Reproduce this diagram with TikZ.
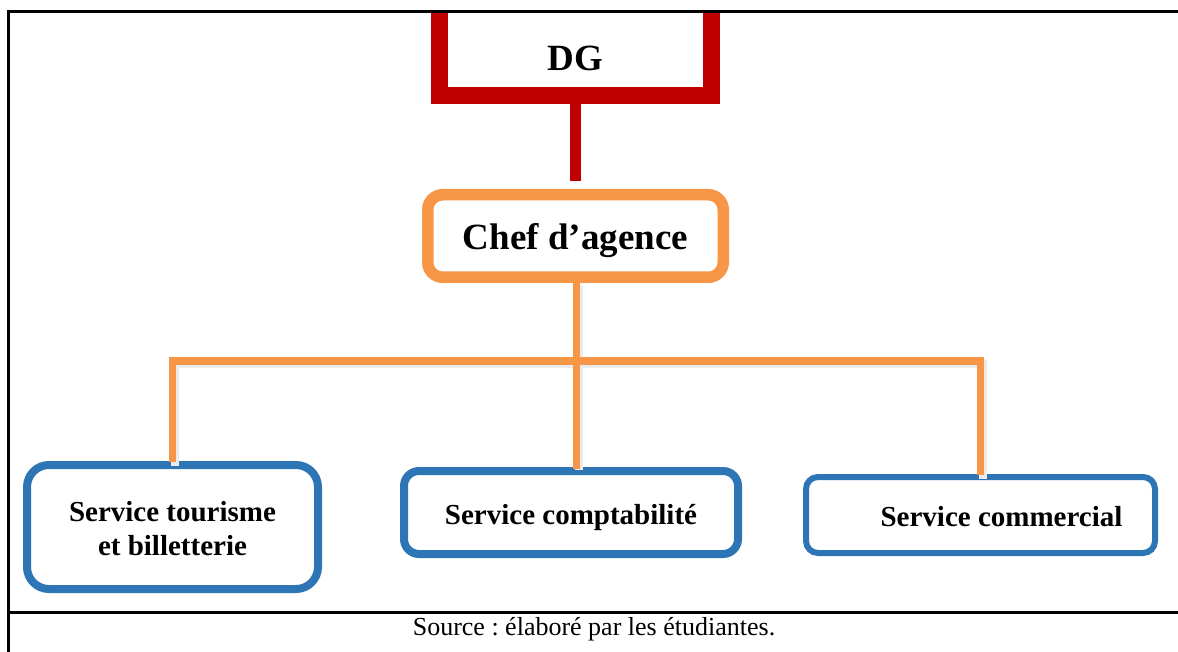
\documentclass[tikz,border=0pt]{standalone}
\usepackage{fontspec}
\setmainfont{Liberation Serif}
\definecolor{dgred}{HTML}{C00000}
\definecolor{chorange}{HTML}{F79646}
\definecolor{svblue}{HTML}{2E75B6}
\newcommand{\lowerby}[2]{\raisebox{-#1}[\height][\depth]{#2}}
\begin{document}
\frenchspacing
\begin{tikzpicture}[x=1pt,y=1pt,
  dgbox/.style={draw=dgred, line width=17pt, fill=white, inner sep=0pt,
    minimum width=272pt, minimum height=92pt, text height=42pt, text depth=0pt,
    font=\fontsize{37}{40}\selectfont\bfseries},
  chefbox/.style={draw=chorange, line width=11.5pt, fill=white, inner sep=0pt,
    rounded corners=15pt, minimum width=295.5pt, minimum height=82.5pt,
    font=\fontsize{37}{40}\selectfont\bfseries},
  svbox/.style={draw=svblue, fill=white, inner sep=0pt, align=center,
    font=\fontsize{29}{34}\selectfont\bfseries},
  redline/.style={draw=dgred, line width=11pt},
  orline/.style={draw=chorange, line width=7.5pt, line join=miter},
  shadowline/.style={draw=black!8, line width=8pt, line join=miter},
  frame/.style={draw=black, line width=3pt}]
\useasboundingbox (0,0) rectangle (1178,-652);
\fill[white] (0,0) rectangle (1178,-652);

% boxes
\begin{scope}
  \clip (8,-12) rectangle (1178,-652);
  \node[dgbox] (dg) at (575.5,-49.5) {DG};
\end{scope}
\node[chefbox] (chef) at (575.5,-236) {\lowerby{5pt}{Chef d’agence}};
\node[svbox, line width=8pt, rounded corners=22pt, minimum width=291pt, minimum height=124pt]
  (b1) at (172.5,-527) {\lowerby{1.5pt}{Service tourisme}\\\lowerby{1.5pt}{et billetterie}};
\node[svbox, line width=8pt, rounded corners=15pt, minimum width=334pt, minimum height=83pt]
  (b2) at (571,-512.5) {\lowerby{5pt}{Service comptabilité}};
\node[svbox, line width=6pt, rounded corners=12pt, minimum width=349pt, minimum height=76pt]
  (b3) at (980.5,-515) {\hspace*{42pt}\lowerby{2pt}{Service commercial}};

\node[font=\fontsize{26}{30}\selectfont, inner sep=0pt] (src) at (594,-629) {Source : élaboré par les étudiantes.};

% connectors
\coordinate (bus) at (0,-361);
\coordinate (mid) at (576.5,0);
\draw[redline] (dg.south) -- ([yshift=8pt]chef.north);
\begin{scope}[transform canvas={shift={(2pt,-3pt)}}]
  \draw[shadowline] ([yshift=-2pt]b1.north) -- (b1.north |- bus) -- (b3.north |- bus) -- ([yshift=-2pt]b3.north);
  \draw[shadowline] (mid |- chef.south) -- (mid |- b2.north);
\end{scope}
\draw[orline] ([yshift=-1pt]b1.north) -- (b1.north |- bus) -- (b3.north |- bus) -- ([yshift=-1pt]b3.north);
\draw[orline] (mid |- chef.south) -- ([yshift=-2pt]mid |- b2.north);

% frame
\draw[frame] (8,-652) -- (8,-12) -- (1178,-12);
\draw[frame] (8,-612) -- (1178,-612);
\end{tikzpicture}
\end{document}
